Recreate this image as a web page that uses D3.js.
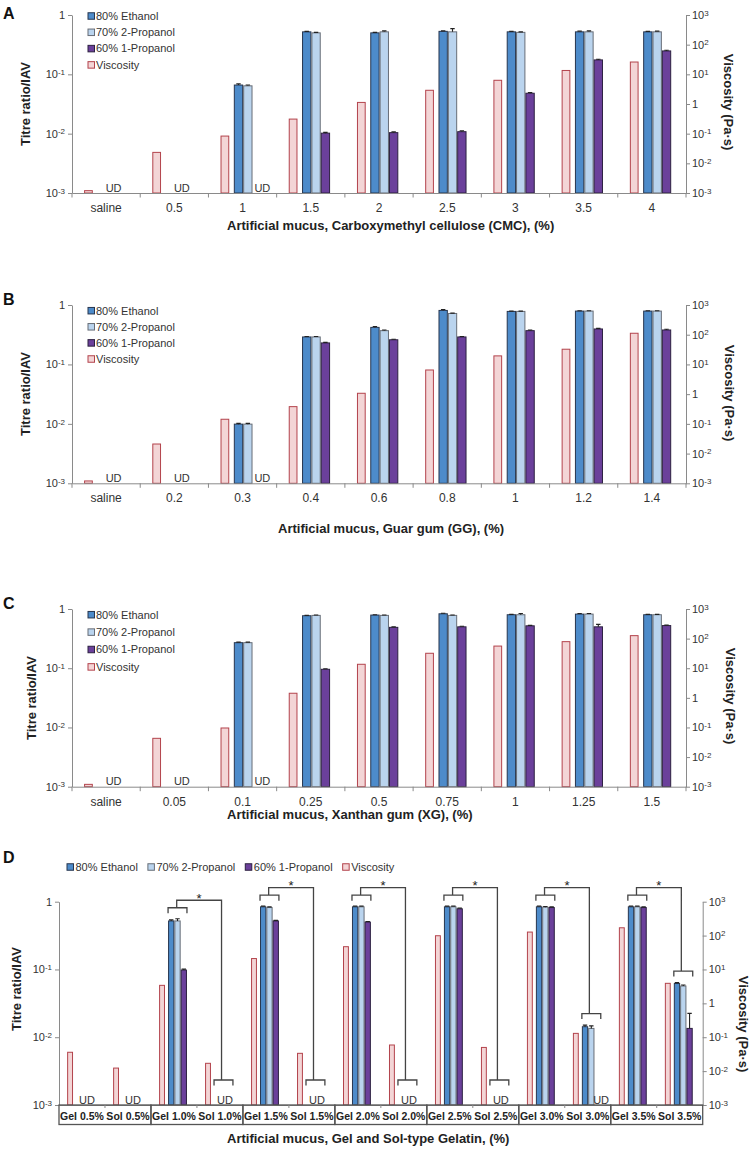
<!DOCTYPE html>
<html><head><meta charset="utf-8">
<script src="https://cdn.jsdelivr.net/npm/d3@7"></script>
<style>
body{margin:0;background:#fff}
svg{display:block}
text{font-family:Arial,"Liberation Sans",sans-serif}
</style>
</head><body>
<svg id="c" width="751" height="1149"></svg>
<script>
// ---------------- DATA ----------------
const seriesNames = ["80% Ethanol","70% 2-Propanol","60% 1-Propanol","Viscosity"];
const leftTickValues = [1e-3,1e-2,1e-1,1];
const rightTickValues = [1e-3,1e-2,1e-1,1,1e1,1e2,1e3];

// Panel A: CMC
const catsA = ["saline","0.5","1","1.5","2","2.5","3","3.5","4"];
const ethA  = [null,null,0.066,0.52,0.50,0.53,0.52,0.52,0.52];
const ethErrA = [0,0,0.003,0.01,0.01,0.01,0.01,0.015,0.01];
const p2A   = [null,null,0.064,0.50,0.52,0.52,0.51,0.52,0.52];
const p2ErrA = [0,0,0.002,0.01,0.02,0.07,0.01,0.02,0.015];
const p1A   = [null,null,null,0.0102,0.0104,0.0108,0.048,0.175,0.248];
const p1ErrA = [0,0,0,0.0003,0.0003,0.0004,0.0015,0.005,0.006];
const viscA = [0.0012,0.0234,0.083,0.31,1.13,2.9,6.3,13.5,26];

// Panel B: Guar gum
const catsB = ["saline","0.2","0.3","0.4","0.6","0.8","1","1.2","1.4"];
const ethB  = [null,null,0.0099,0.29,0.42,0.81,0.78,0.79,0.79];
const ethErrB = [0,0,0.0003,0.005,0.015,0.03,0.01,0.01,0.01];
const p2B   = [null,null,0.0099,0.29,0.37,0.72,0.78,0.79,0.79];
const p2ErrB = [0,0,0.0003,0.005,0.01,0.01,0.01,0.01,0.01];
const p1B   = [null,null,null,0.23,0.26,0.29,0.37,0.395,0.38];
const p1ErrB = [0,0,0,0.005,0.005,0.005,0.01,0.01,0.01];
const viscB = [0.0012,0.021,0.143,0.38,1.07,6.5,19.4,32.5,112];

// Panel C: Xanthan gum
const catsC = ["saline","0.05","0.1","0.25","0.5","0.75","1","1.25","1.5"];
const ethC  = [null,null,0.27,0.77,0.79,0.83,0.80,0.82,0.80];
const ethErrC = [0,0,0.006,0.01,0.01,0.02,0.01,0.02,0.01];
const p2C   = [null,null,0.27,0.78,0.78,0.78,0.80,0.82,0.80];
const p2ErrC = [0,0,0.006,0.01,0.01,0.01,0.04,0.02,0.01];
const p1C   = [null,null,null,0.096,0.49,0.50,0.52,0.50,0.525];
const p1ErrC = [0,0,0,0.002,0.01,0.01,0.01,0.05,0.01];
const viscC = [0.0012,0.043,0.096,1.43,13.6,32,56,79,126];

// Panel D: Gelatin
const catsD = ["Gel 0.5%","Sol 0.5%","Gel 1.0%","Sol 1.0%","Gel 1.5%","Sol 1.5%","Gel 2.0%","Sol 2.0%","Gel 2.5%","Sol 2.5%","Gel 3.0%","Sol 3.0%","Gel 3.5%","Sol 3.5%"];
const ethD  = [null,null,0.52,null,0.84,null,0.84,null,0.84,null,0.84,0.0143,0.84,0.062];
const ethErrD = [0,0,0.02,0,0.02,0,0.02,0,0.02,0,0.02,0.0008,0.02,0.002];
const p2D   = [null,null,0.52,null,0.82,null,0.84,null,0.84,null,0.83,0.0135,0.84,0.057];
const p2ErrD = [0,0,0.04,0,0.02,0,0.02,0,0.02,0,0.02,0.0012,0.02,0.002];
const p1D   = [null,null,0.098,null,0.52,null,0.50,null,0.785,null,0.82,null,0.82,0.0135];
const p1ErrD = [0,0,0.003,0,0.01,0,0.01,0,0.02,0,0.02,0,0.02,0.009];
const viscD = [0.036,0.0123,3.4,0.017,21,0.0335,47,0.059,99,0.050,127,0.13,170,3.9];
const sigPairsD = [[2,3],[4,5],[6,7],[8,9],[10,11],[12,13]];

// ---------------- DRAWING ----------------
const svg = d3.select('#c');
const COL = [
  {fill:'#4d8bca', stroke:'#27364f'},
  {fill:'#bad4ee', stroke:'#676d77'},
  {fill:'#6b409b', stroke:'#2c2040'},
  {fill:'#f3d5d6', stroke:'#b3434c'}
];
const AX = '#8a8a8a', TXT = '#333';
const SER_OFF = [0.372, 0.509, 0.646];
const SER_W = 0.137, VIS_OFF = 0.177, VIS_W = 0.128;

function expLabel(sel, v) {
  sel.text(null);
  const e = Math.round(Math.log10(v));
  if (e === 0) { sel.append('tspan').text('1'); return; }
  sel.append('tspan').text('10');
  sel.append('tspan').attr('dy','-0.42em').attr('font-size','8px').text(String(e).replace('-', '-'));
}

function panel(cfg) {
  const g = svg.append('g');
  const x = d3.scaleBand().domain(cfg.cats).range([cfg.left, cfg.right]);
  const bw = x.bandwidth();
  const yL = d3.scaleLog().domain([1e-3, 1]).range([cfg.bottom, cfg.top]);
  const yR = d3.scaleLog().domain([1e-3, 1e3]).range([cfg.bottom, cfg.top]);

  // panel letter
  g.append('text').attr('x', 3).attr('y', cfg.letterY).attr('font-size', '16px')
    .attr('font-weight', 'bold').attr('fill', '#111').text(cfg.letter);

  // viscosity bars (right axis)
  g.selectAll('rect.v').data(cfg.visc).join('rect')
    .attr('x', (d, i) => x(cfg.cats[i]) + VIS_OFF * bw + 0.5)
    .attr('y', d => yR(d))
    .attr('width', VIS_W * bw - 1)
    .attr('height', d => cfg.bottom - yR(d))
    .attr('fill', COL[3].fill).attr('stroke', COL[3].stroke).attr('stroke-width', 1);

  // titre bars
  const series = [[cfg.eth, cfg.ethErr], [cfg.p2, cfg.p2Err], [cfg.p1, cfg.p1Err]];
  series.forEach(([vals, errs], si) => {
    const data = vals.map((v, i) => ({v, e: errs[i], i})).filter(d => d.v != null);
    g.selectAll('rect.s' + si).data(data).join('rect')
      .attr('x', d => x(cfg.cats[d.i]) + SER_OFF[si] * bw + 0.5)
      .attr('y', d => yL(d.v))
      .attr('width', SER_W * bw - 1)
      .attr('height', d => cfg.bottom - yL(d.v))
      .attr('fill', COL[si].fill).attr('stroke', COL[si].stroke).attr('stroke-width', 1);
    // error bars
    data.forEach(d => {
      const cx = x(cfg.cats[d.i]) + (SER_OFF[si] + SER_W / 2) * bw;
      const y0 = yL(d.v), y1 = yL(d.v + d.e);
      g.append('path').attr('d', `M${cx},${y0}V${y1}M${cx - 2.2},${y1}H${cx + 2.2}`)
        .attr('stroke', '#222').attr('stroke-width', 1.1).attr('fill', 'none');
    });
  });

  // UD labels
  cfg.cats.forEach((c, i) => {
    let fx = null;
    if (cfg.eth[i] == null && cfg.p2[i] == null && cfg.p1[i] == null) fx = 0.61;
    else if (cfg.p1[i] == null) fx = 0.79;
    if (fx != null) {
      g.append('text').attr('x', x(c) + fx * bw).attr('y', cfg.bottom - 1.5)
        .attr('text-anchor', 'middle').attr('font-size', '11px').attr('fill', TXT).text('UD');
    }
  });

  // left axis
  const la = g.append('g').attr('transform', `translate(${cfg.left},0)`)
    .call(d3.axisLeft(yL).tickValues(leftTickValues).tickSize(4).tickSizeOuter(0).tickPadding(3).tickFormat(() => ''));
  la.select('.domain').attr('stroke', AX);
  la.selectAll('.tick line').attr('stroke', AX);
  la.selectAll('.tick text').attr('font-size', '11px').attr('fill', TXT).attr('font-family', null)
    .each(function (d) { expLabel(d3.select(this), d); });

  // right axis
  const ra = g.append('g').attr('transform', `translate(${cfg.right},0)`)
    .call(d3.axisRight(yR).tickValues(rightTickValues).tickSize(4).tickSizeOuter(0).tickPadding(2).tickFormat(() => ''));
  ra.select('.domain').attr('stroke', AX);
  ra.selectAll('.tick line').attr('stroke', AX);
  ra.selectAll('.tick text').attr('font-size', '11px').attr('fill', TXT).attr('font-family', null)
    .each(function (d) { expLabel(d3.select(this), d); });

  // bottom axis
  if (!cfg.boxed) {
    const ba = g.append('g').attr('transform', `translate(0,${cfg.bottom})`)
      .call(d3.axisBottom(x).tickSize(0).tickSizeOuter(0).tickPadding(10.5));
    ba.select('.domain').attr('stroke', AX);
    ba.selectAll('.tick text').attr('font-size', '12px').attr('fill', TXT).attr('font-family', null);
    const bnds = cfg.cats.map(c => x(c)).concat([x.range()[1]]);
    g.selectAll('line.bt').data(bnds).join('line')
      .attr('x1', d => d).attr('x2', d => d).attr('y1', cfg.bottom).attr('y2', cfg.bottom + 4.5)
      .attr('stroke', AX);
  } else {
    const ba = g.append('g').attr('transform', `translate(0,${cfg.bottom})`)
      .call(d3.axisBottom(x).tickSize(0).tickSizeOuter(0).tickPadding(7.5));
    ba.select('.domain').attr('stroke', AX);
    ba.selectAll('.tick text').attr('font-size', '10.5px').attr('font-weight', 'bold')
      .attr('fill', '#222').attr('font-family', null);
    // pair boxes
    for (let i = 0; i < cfg.cats.length; i += 2) {
      g.append('rect').attr('x', x(cfg.cats[i])).attr('y', cfg.bottom)
        .attr('width', 2 * bw).attr('height', 19.5)
        .attr('fill', 'none').attr('stroke', '#555').attr('stroke-width', 1.3);
      g.append('line').attr('x1', x(cfg.cats[i + 1])).attr('x2', x(cfg.cats[i + 1]))
        .attr('y1', cfg.bottom).attr('y2', cfg.bottom + 3).attr('stroke', AX);
    }
  }

  // axis titles
  g.append('text').attr('x', cfg.xTitleX).attr('y', cfg.xTitleY).attr('font-size', '13px')
    .attr('font-weight', 'bold').attr('fill', '#222').text(cfg.xTitle);
  g.append('text').attr('transform', `translate(${cfg.yTitleX},${cfg.yTitleY}) rotate(-90)`)
    .attr('dy', '0.35em').attr('text-anchor', 'middle').attr('font-size', '13px')
    .attr('font-weight', 'bold').attr('fill', '#222').text('Titre ratio/IAV');
  g.append('text').attr('transform', `translate(${cfg.rTitleX},${cfg.rTitleY}) rotate(90)`)
    .attr('dy', '0.35em').attr('text-anchor', 'middle').attr('font-size', '13px')
    .attr('font-weight', 'bold').attr('fill', '#222').text('Viscosity (Pa·s)');

  // legend
  const lgOrder = [0, 1, 2, 3];
  if (!cfg.hLegend) {
    lgOrder.forEach((k, j) => {
      const yy = cfg.legY + j * cfg.legDy;
      g.append('rect').attr('x', 88).attr('y', yy - 3.25).attr('width', 6.5).attr('height', 6.5)
        .attr('fill', COL[k].fill).attr('stroke', COL[k].stroke).attr('stroke-width', 1);
      g.append('text').attr('x', 96).attr('y', yy).attr('dy', '0.35em').attr('font-size', '11px')
        .attr('fill', TXT).text(seriesNames[k]);
    });
  } else {
    let xx = cfg.legX;
    lgOrder.forEach(k => {
      g.append('rect').attr('x', xx).attr('y', cfg.legY - 3.25).attr('width', 6.5).attr('height', 6.5)
        .attr('fill', COL[k].fill).attr('stroke', COL[k].stroke).attr('stroke-width', 1);
      const t = g.append('text').attr('x', xx + 8.5).attr('y', cfg.legY).attr('dy', '0.35em')
        .attr('font-size', '11px').attr('fill', TXT).text(seriesNames[k]);
      xx += 8.5 + t.node().getComputedTextLength() + 10;
    });
  }

  // significance brackets
  if (cfg.sig) {
    const topPix = i => {
      const tops = [];
      [[cfg.eth, cfg.ethErr], [cfg.p2, cfg.p2Err], [cfg.p1, cfg.p1Err]].forEach(([v, e]) => {
        if (v[i] != null) tops.push(yL(v[i] + e[i]));
      });
      return tops.length ? d3.min(tops) : cfg.bottom - 13.5;
    };
    cfg.sig.forEach(([gi, si]) => {
      const gx = x(cfg.cats[gi]), sx = x(cfg.cats[si]);
      const gy = topPix(gi) - 11, sy = topPix(si) - 11.5, hy = gy - 7.5;
      const br = (x0, y) => `M${x0 + SER_OFF[0] * bw},${y + 5.5}V${y}H${x0 + (SER_OFF[2] + SER_W) * bw}V${y + 5.5}`;
      const st = gx + 0.56 * bw, en = sx + 0.535 * bw;
      g.append('path').attr('d', br(gx, gy) + br(sx, sy) + `M${st},${gy}V${hy}H${en}V${sy}`)
        .attr('fill', 'none').attr('stroke', '#444').attr('stroke-width', 1.3);
      g.append('text').attr('x', (st + en) / 2).attr('y', hy + 2.5).attr('text-anchor', 'middle')
        .attr('font-size', '13px').attr('fill', '#222').text('*');
    });
  }
}

panel({letter:'A', letterY:19, top:15, bottom:193, left:72, right:686,
  cats:catsA, eth:ethA, ethErr:ethErrA, p2:p2A, p2Err:p2ErrA, p1:p1A, p1Err:p1ErrA, visc:viscA,
  xTitle:'Artificial mucus, Carboxymethyl cellulose (CMC), (%)', xTitleX:227, xTitleY:230,
  yTitleX:25, yTitleY:104, rTitleX:729, rTitleY:102, legY:16, legDy:16.3});

panel({letter:'B', letterY:305, top:305, bottom:483.3, left:72, right:686,
  cats:catsB, eth:ethB, ethErr:ethErrB, p2:p2B, p2Err:p2ErrB, p1:p1B, p1Err:p1ErrB, visc:viscB,
  xTitle:'Artificial mucus, Guar gum (GG), (%)', xTitleX:278, xTitleY:532.7,
  yTitleX:25, yTitleY:394, rTitleX:730, rTitleY:393, legY:310.7, legDy:16.1});

panel({letter:'C', letterY:609, top:609, bottom:786.7, left:72, right:686,
  cats:catsC, eth:ethC, ethErr:ethErrC, p2:p2C, p2Err:p2ErrC, p1:p1C, p1Err:p1ErrC, visc:viscC,
  xTitle:'Artificial mucus, Xanthan gum (XG), (%)', xTitleX:227, xTitleY:818.5,
  yTitleX:31, yTitleY:698, rTitleX:730.5, rTitleY:696, legY:614.7, legDy:17.4});

panel({letter:'D', letterY:862.7, top:901.7, bottom:1105, left:59, right:702.7, boxed:true, hLegend:true,
  cats:catsD, eth:ethD, ethErr:ethErrD, p2:p2D, p2Err:p2ErrD, p1:p1D, p1Err:p1ErrD, visc:viscD,
  xTitle:'Artificial mucus, Gel and Sol-type Gelatin, (%)', xTitleX:227, xTitleY:1142.7,
  yTitleX:16, yTitleY:989, rTitleX:743.5, rTitleY:1024, legX:67, legY:867, sig:sigPairsD});
</script>
</body></html>
